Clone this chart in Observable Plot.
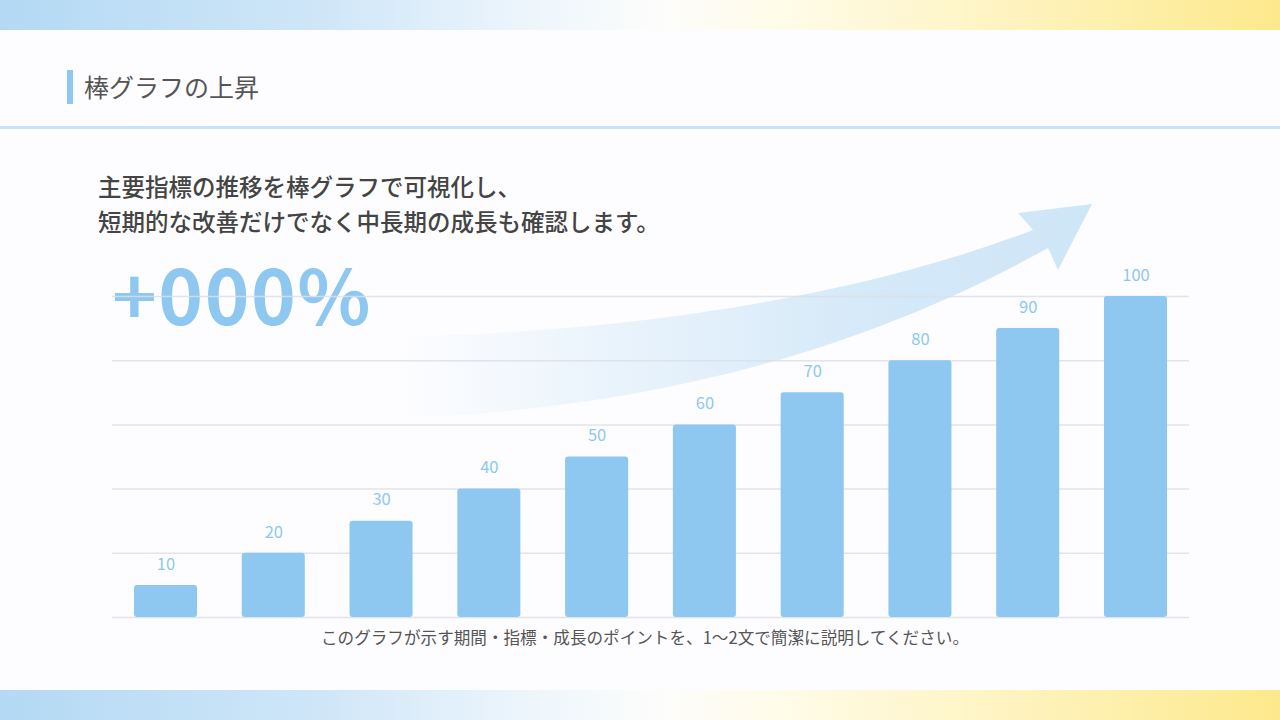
<!DOCTYPE html>
<html lang="ja">
<head>
<meta charset="utf-8">
<script src="https://cdn.jsdelivr.net/npm/d3@7"></script>
<script src="https://cdn.jsdelivr.net/npm/@observablehq/plot@0.6"></script>
<style>
  html, body { margin: 0; padding: 0; }
  body { width: 1280px; height: 720px; position: relative; overflow: hidden; background: #fdfdff;
         font-family: "Noto Sans CJK JP", "Noto Sans", sans-serif; }
  .band { position: absolute; left: 0; width: 1280px; height: 30px;
          background: linear-gradient(90deg, #b3d9f4 0%, #cfe6f8 25%, #eef6fc 42%, #fdfdfb 52%, #fffbe6 62%, #fef3bd 80%, #fde98c 100%); }
  #top { top: 0; }
  #bottom { top: 690px; }
  #accent { position: absolute; left: 67px; top: 70px; width: 6px; height: 34px; background: #8ec8f0; }
  #title { position: absolute; left: 84px; top: 69px; font-size: 25px; line-height: 34px; color: #555; font-weight: 400; }
  #divider { position: absolute; left: 0; top: 126px; width: 1280px; height: 3px; background: #c9e3f6; }
  #subtitle { position: absolute; left: 98px; top: 169px; font-size: 23.5px; line-height: 35px; color: #444; font-weight: 500; }
  #big { position: absolute; left: 112px; top: 254px; font-size: 76px; line-height: 76px; letter-spacing: 1.5px; color: #8ec8f0; font-weight: 700; z-index: 1; }
  #deco { position: absolute; left: 0; top: 0; z-index: 2; }
  #chart { position: absolute; left: 0; top: 250px; z-index: 3; }
  #caption { position: absolute; left: 0; width: 1290px; top: 626px; text-align: center; font-size: 16.6px; line-height: 22px; color: #555; z-index: 3; }
</style>
</head>
<body>
<div class="band" id="top"></div>
<div class="band" id="bottom"></div>
<div id="accent"></div>
<div id="title">棒グラフの上昇</div>
<div id="divider"></div>
<div id="subtitle">主要指標の推移を棒グラフで可視化し、<br>短期的な改善だけでなく中長期の成長も確認します。</div>
<div id="big">+000%</div>
<svg id="deco" width="1280" height="720" viewBox="0 0 1280 720">
  <defs>
    <linearGradient id="ag" x1="400" y1="0" x2="1092" y2="0" gradientUnits="userSpaceOnUse">
      <stop offset="0" stop-color="#cde5f7" stop-opacity="0"/>
      <stop offset="0.3" stop-color="#cde5f7" stop-opacity="0.4"/>
      <stop offset="0.7" stop-color="#cde5f7" stop-opacity="0.85"/>
      <stop offset="1" stop-color="#cfe6f7" stop-opacity="1"/>
    </linearGradient>
  </defs>
  <path d="M410,336 C620,332 850,300 1033,230 L1018,213 L1092,204 L1058,270 L1048,248 C900,330 700,405 410,418 Q392,377 410,336 Z" fill="url(#ag)"/>
</svg>
<div id="chart"></div>
<div id="caption">このグラフが示す期間・指標・成長のポイントを、1〜2文で簡潔に説明してください。</div>
<script>
const categories = ["1", "2", "3", "4", "5", "6", "7", "8", "9", "10"];
const values = [10, 20, 30, 40, 50, 60, 70, 80, 90, 100];
const valueLabels = ["10", "20", "30", "40", "50", "60", "70", "80", "90", "100"];
const gridTicks = [0, 20, 40, 60, 80, 100];

const data = categories.map((c, i) => ({ cat: c, value: values[i], label: valueLabels[i] }));

const chart = Plot.plot({
  width: 1280,
  height: 380,
  marginLeft: 112,
  marginRight: 91,
  marginTop: 46,
  marginBottom: 13,
  style: { background: "transparent", fontFamily: "'Noto Sans CJK JP', 'Noto Sans', sans-serif" },
  x: { domain: categories, paddingInner: 0.415, paddingOuter: 0.204, round: false, axis: null },
  y: { domain: [0, 100], axis: null },
  marks: [
    Plot.ruleY(gridTicks, { stroke: "#dcdfe6", strokeWidth: 1.5, strokeOpacity: 0.85 }),
    Plot.barY(data, { x: "cat", y: "value", fill: "#8ec8f0", rx: 3 }),
    Plot.text(data, { x: "cat", y: "value", text: "label", dy: -21, fill: "#8ec8f0", fontSize: 16.5 })
  ]
});
document.getElementById("chart").appendChild(chart);
</script>
</body>
</html>
